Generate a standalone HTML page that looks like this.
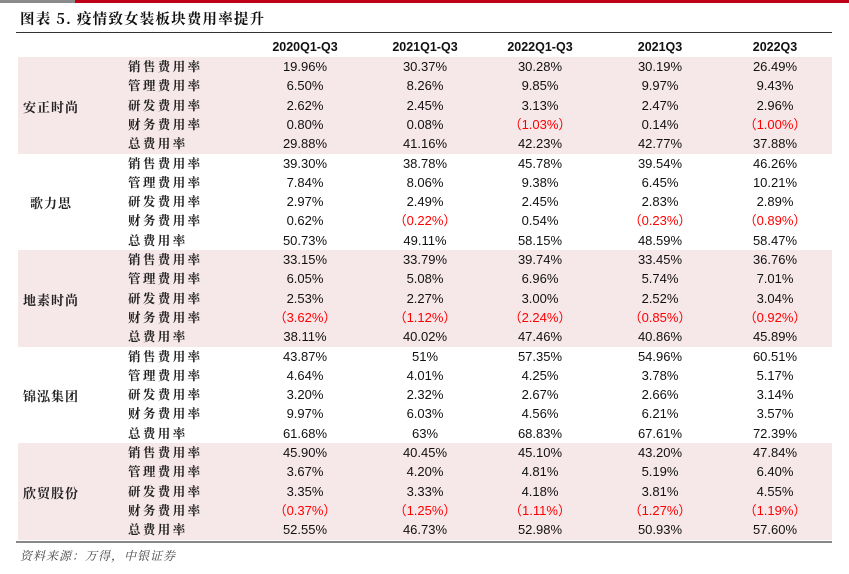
<!DOCTYPE html>
<html><head><meta charset="utf-8"><style>
body{margin:0;width:849px;height:574px;background:#fff;position:relative;overflow:hidden;font-family:"Liberation Sans","Noto Sans CJK SC",sans-serif;}
.a{position:absolute;}
.c{position:absolute;text-align:center;font-size:13px;line-height:19px;color:#111;}
.l2{position:absolute;left:128px;font-size:12.5px;line-height:19px;letter-spacing:2.4px;font-family:"Noto Serif CJK SC","Liberation Serif",serif;font-weight:bold;color:#222;}
.l1{position:absolute;left:18px;width:66px;text-align:center;font-size:13px;font-family:"Noto Serif CJK SC","Liberation Serif",serif;font-weight:bold;color:#222;letter-spacing:1px;}
.red{color:#f00;}
</style></head><body>
<div class="a" style="left:0;top:0;width:75px;height:3px;background:#8a8a8a"></div>
<div class="a" style="left:75px;top:0;width:774px;height:3px;background:#c00018"></div>
<div class="a" style="left:20px;top:8px;font-size:14.5px;font-weight:bold;font-family:'Noto Serif CJK SC','Liberation Serif',serif;letter-spacing:1.2px;color:#111">图表 5. 疫情致女装板块费用率提升</div>
<div class="a" style="left:16px;top:32px;width:816px;height:1px;background:#333"></div>
<div id="t"></div>
<div class="a" style="left:16px;top:541px;width:816px;height:2px;background:#888"></div>
<div class="a" style="left:20px;top:547px;font-size:12px;font-style:italic;font-family:'Noto Serif CJK SC','Liberation Serif',serif;color:#444;letter-spacing:1px">资料来源：万得，中银证券</div>
<script>
const periods=["2020Q1-Q3","2021Q1-Q3","2022Q1-Q3","2021Q3","2022Q3"];
const companies=["安正时尚","歌力思","地素时尚","锦泓集团","欣贸股份"];
const metrics=["销售费用率","管理费用率","研发费用率","财务费用率","总费用率"];
const values=[
[["19.96%","30.37%","30.28%","30.19%","26.49%"],["6.50%","8.26%","9.85%","9.97%","9.43%"],["2.62%","2.45%","3.13%","2.47%","2.96%"],["0.80%","0.08%","（1.03%）","0.14%","（1.00%）"],["29.88%","41.16%","42.23%","42.77%","37.88%"]],
[["39.30%","38.78%","45.78%","39.54%","46.26%"],["7.84%","8.06%","9.38%","6.45%","10.21%"],["2.97%","2.49%","2.45%","2.83%","2.89%"],["0.62%","（0.22%）","0.54%","（0.23%）","（0.89%）"],["50.73%","49.11%","58.15%","48.59%","58.47%"]],
[["33.15%","33.79%","39.74%","33.45%","36.76%"],["6.05%","5.08%","6.96%","5.74%","7.01%"],["2.53%","2.27%","3.00%","2.52%","3.04%"],["（3.62%）","（1.12%）","（2.24%）","（0.85%）","（0.92%）"],["38.11%","40.02%","47.46%","40.86%","45.89%"]],
[["43.87%","51%","57.35%","54.96%","60.51%"],["4.64%","4.01%","4.25%","3.78%","5.17%"],["3.20%","2.32%","2.67%","2.66%","3.14%"],["9.97%","6.03%","4.56%","6.21%","3.57%"],["61.68%","63%","68.83%","67.61%","72.39%"]],
[["45.90%","40.45%","45.10%","43.20%","47.84%"],["3.67%","4.20%","4.81%","5.19%","6.40%"],["3.35%","3.33%","4.18%","3.81%","4.55%"],["（0.37%）","（1.25%）","（1.11%）","（1.27%）","（1.19%）"],["52.55%","46.73%","52.98%","50.93%","57.60%"]]
];
const T=document.getElementById('t');
const cx=[305,425,540,660,775];
const y0=57,rh=19.3;
periods.forEach((p,i)=>{
  const d=document.createElement('div');d.className='c';d.style.cssText=`left:${cx[i]-60}px;width:120px;top:38px;font-weight:bold;font-size:12.5px;`;d.textContent=p;
  
  
  T.appendChild(d);
});
companies.forEach((co,g)=>{
  const gy=y0+g*5*rh;
  if(g%2==0){const bg=document.createElement('div');bg.className='a';bg.style.cssText=`left:18px;top:${gy}px;width:814px;height:${5*rh}px;background:#f6e7e9`;
  
  
  T.appendChild(bg);}
  const l=document.createElement('div');l.className='l1';l.style.top=(gy+2*rh+1)+'px';l.textContent=co;
  
  
  T.appendChild(l);
  metrics.forEach((m,r)=>{
    const y=gy+r*rh;
    const ml=document.createElement('div');ml.className='l2';ml.style.top=y+'px';ml.textContent=m;
    
    
    T.appendChild(ml);
    values[g][r].forEach((v,i)=>{
      const c=document.createElement('div');c.className='c'+(v.includes('（')?' red':'');
      c.style.cssText=`left:${cx[i]-60}px;width:120px;top:${y}px;`;c.textContent=v;
      
      
      T.appendChild(c);
    });
  });
});
</script>
</body></html>
